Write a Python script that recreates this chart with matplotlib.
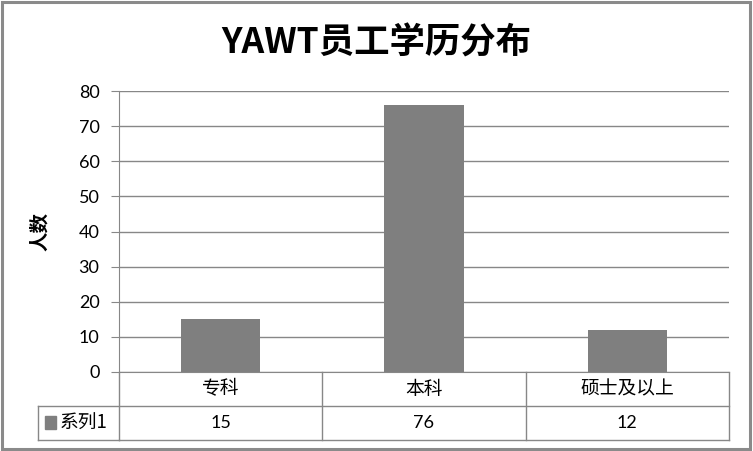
import matplotlib
matplotlib.use("Agg")
import matplotlib.pyplot as plt
from matplotlib.patches import Rectangle
from matplotlib.lines import Line2D

plt.rcParams['font.family'] = ['Noto Sans CJK SC', 'DejaVu Sans']

categories = ['专科', '本科', '硕士及以上']
values = [15, 76, 12]
series_name = '系列1'
title = 'YAWT员工学历分布'
ylabel = '人数'
yticks = [0, 10, 20, 30, 40, 50, 60, 70, 80]

W, H = 753, 451
bar_color = '#7f7f7f'
line_color = '#878787'
num_font = ['Lato', 'DejaVu Sans']

fig = plt.figure(figsize=(W / 100, H / 100), dpi=100)

# plot area in pixels
L, R, T, B = 119, 729, 91, 372
ax = fig.add_axes([L / W, 1 - B / H, (R - L) / W, (B - T) / H])

x = list(range(len(categories)))
ax.bar(x, values, width=0.39, color=bar_color, zorder=3)
ax.set_xlim(-0.5, len(categories) - 0.5)
ax.set_ylim(0, 80)
ax.set_yticks(yticks)
ax.set_yticklabels([str(v) for v in yticks], fontsize=13, family=num_font)
ax.set_xticks([])
ax.yaxis.grid(True, color=line_color, linewidth=1, zorder=0)
for s in ['top', 'right']:
    ax.spines[s].set_visible(False)
ax.spines['left'].set_color(line_color)
ax.spines['bottom'].set_color(line_color)
ax.tick_params(axis='y', length=6, color=line_color, pad=8)
ax.set_ylabel(ylabel, fontsize=14, fontweight='bold')
ax.yaxis.set_label_coords(-(L - 41) / (R - L), 0.5)
ax.yaxis.label.set_va('center')

fig.suptitle(title, fontsize=25.5, fontweight='bold', y=1 - 43 / H, va='center')

# data table below the axis
ph = B - T
row1 = -(406 - B) / ph
row2 = -(440 - B) / ph
tr = ax.get_xaxis_transform()
for xb in [i - 0.5 for i in range(len(categories) + 1)]:
    ax.add_line(Line2D([xb, xb], [0, row2], transform=tr, color=line_color,
                       lw=1, clip_on=False))
ax.add_line(Line2D([-0.5, len(categories) - 0.5], [row2, row2], transform=tr,
                   color=line_color, lw=1, clip_on=False))
# row separator and legend cell extend left of the axis
fx0 = 37.5 / W
fig.add_artist(Line2D([fx0, R / W], [1 - 406 / H, 1 - 406 / H], color=line_color, lw=1))
fig.add_artist(Line2D([fx0, L / W], [1 - 440 / H, 1 - 440 / H], color=line_color, lw=1))
fig.add_artist(Line2D([fx0, fx0], [1 - 406 / H, 1 - 440 / H], color=line_color, lw=1))

for i, (c, v) in enumerate(zip(categories, values)):
    ax.text(i, row1 / 2, c, transform=tr, ha='center', va='center', fontsize=13.5)
    ax.text(i, (row1 + row2) / 2, str(v), transform=tr, ha='center', va='center',
            fontsize=13, family=num_font)

fig.add_artist(Rectangle((45 / W, 1 - 429 / H), 11 / W, 13 / H, color=bar_color))
fig.text(60 / W, 1 - 423 / H, series_name, ha='left', va='center', fontsize=13.5)

# outer chart border
fig.add_artist(Rectangle((1.5 / W, 2.5 / H), (W - 4.5) / W, (H - 4) / H, fill=False,
                         edgecolor='#8a8a8a', lw=2.2))

fig.savefig('out.png', dpi=100)
